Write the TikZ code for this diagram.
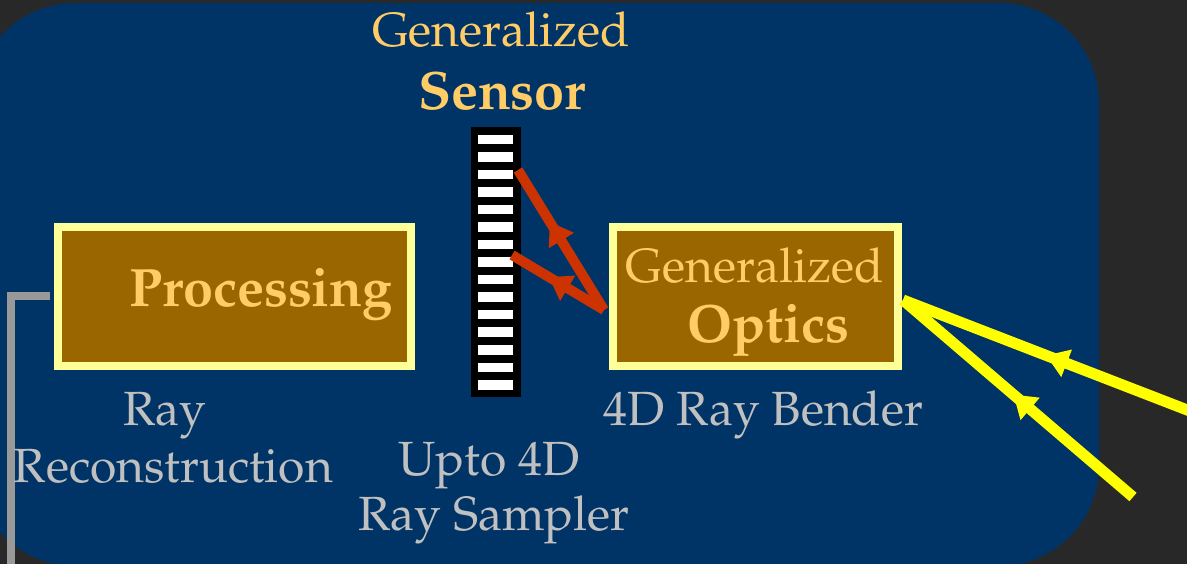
\documentclass[tikz,border=0pt]{standalone}
\usepackage[T1]{fontenc}
\renewcommand{\rmdefault}{ppl}
\usetikzlibrary{arrows.meta,decorations.markings}

\definecolor{bgdark}{HTML}{282828}
\definecolor{navy}{HTML}{003366}
\definecolor{boxfill}{HTML}{996600}
\definecolor{boxedge}{HTML}{FFFF99}
\definecolor{gold}{HTML}{FFCC66}
\definecolor{silver}{HTML}{C0C0C0}
\definecolor{wire}{HTML}{999999}
\definecolor{rayred}{HTML}{CC3300}
\definecolor{rayyellow}{HTML}{FFFF00}

\tikzset{
  unitbox/.style={draw=boxedge, fill=boxfill, line width=8pt, inner sep=0pt,
    minimum height=139pt},
  plainlabel/.style={inner sep=0pt, anchor=base, text=gold,
    font=\fontsize{48}{55}\selectfont},
  boldlabel/.style={inner sep=0pt, anchor=base, text=gold,
    font=\fontsize{54}{60}\selectfont\bfseries},
  greylabel/.style={inner sep=0pt, anchor=base, text=silver,
    font=\fontsize{48}{55}\selectfont},
  headat/.style={postaction={decorate}, decoration={markings,
    mark=at position #1 with {\arrow{Triangle[length=22pt,width=28pt]}}}},
  redray/.style={draw=rayred, fill=rayred, line width=10pt},
  yellowray/.style={draw=rayyellow, fill=rayyellow, line width=11pt},
}

\begin{document}
\begin{tikzpicture}[x=1pt, y=-1pt]
\useasboundingbox (0,0) rectangle (1187,564);
% backdrop and rounded panel
\fill[bgdark] (0,0) rectangle (1187,564);
\fill[navy, rounded corners=100pt] (-25,3) rectangle (1099,566);

% processing unit and reconstruction wire
\node[unitbox, minimum width=353pt] (proc) at (234.5,296.5) {};
\coordinate (wireend) at (11,575);
\draw[wire, line width=8pt, shorten <=4pt] (proc.west) -| (wireend);
\node[boldlabel] (proctext) at (261,307) {Processing};

% optics unit
\node[unitbox, minimum width=285pt] (optics) at (755.5,296.5) {};
\node[plainlabel] (optgen) at (754.5,283) {Generalized};
\node[boldlabel] (opttext) at (768.5,342) {Optics};

% sensor strip with its pixel slots
\node[fill=black, minimum width=50pt, minimum height=270pt, inner sep=0pt]
  (sensor) at (496,262) {};
\foreach \i in {0,...,14}
  \fill[white] (478,{135+17.5*\i}) rectangle (513,{144.5+17.5*\i});

% captions
\node[plainlabel] (sengen) at (501,47) {Generalized};
\node[boldlabel] (sentext) at (502,110) {Sensor};
\node[greylabel] (bender) at (763.5,425) {4D Ray Bender};
\node[greylabel] (recon1) at (165,425) {Ray};
\node[greylabel] (recon2) at (173.5,482) {Reconstruction};
\node[greylabel] (samp1) at (489,475) {Upto 4D};
\node[greylabel] (samp2) at (494,530) {Ray Sampler};

% rays from the optics onto the sensor
\coordinate (bend) at (604,310);
\coordinate (hitA) at (518,170);
\coordinate (hitB) at (512,255);
\draw[redray, headat=0.63] (bend) -- (hitA);
\draw[redray, headat=0.60] (bend) -- (hitB);

% incoming rays into the optics
\coordinate (entry) at (903,300);
\coordinate (inA) at (1195,413);
\coordinate (inB) at (1133,497);
\draw[yellowray, headat=0.51] (inA) -- (entry);
\draw[yellowray, headat=0.52] (inB) -- (entry);
\end{tikzpicture}
\end{document}
